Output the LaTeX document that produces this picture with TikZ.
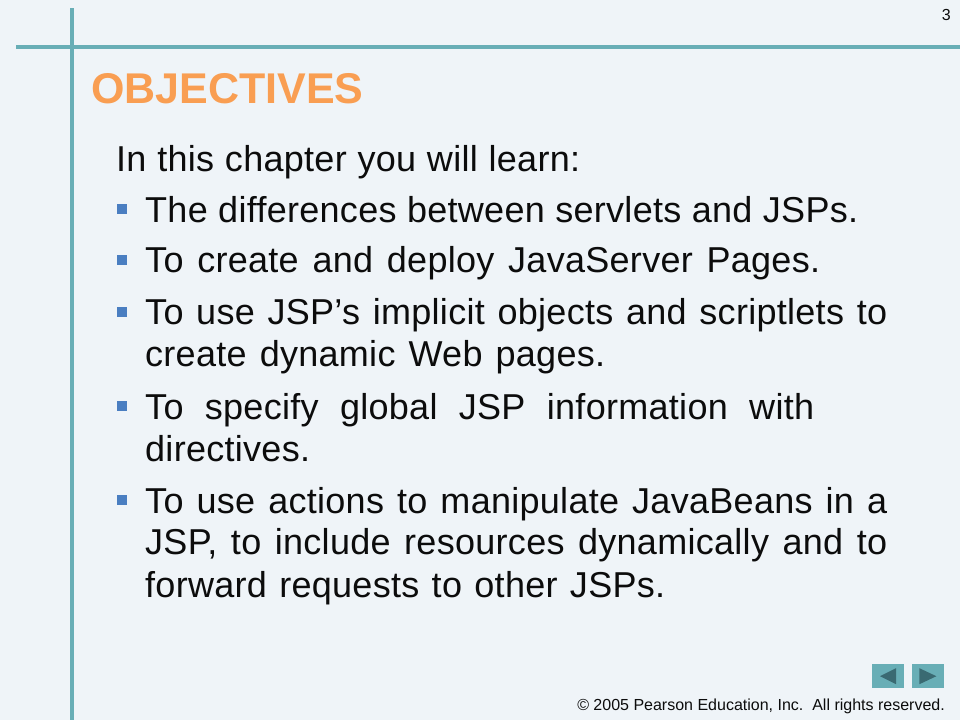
\documentclass[tikz,border=0pt]{standalone}
\usepackage{fontspec}
\setmainfont{Liberation Sans}
\newfontfamily\bodyfont{Liberation Sans}[LetterSpace=0.8,Ligatures=NoCommon]
\definecolor{bg}{RGB}{239,244,248}
\definecolor{teal}{RGB}{104,174,182}
\definecolor{tealdark}{RGB}{58,106,114}
\definecolor{titleorange}{RGB}{249,158,82}
\definecolor{bulletblue}{RGB}{74,126,193}
\definecolor{bodytext}{RGB}{12,12,12}
\begin{document}
\begin{tikzpicture}[x=1pt,y=-1pt,
  rule/.style={teal,line width=4pt},
  titletext/.style={anchor=base west,inner sep=0pt,text=titleorange,font=\fontsize{43}{50}\selectfont\bfseries},
  bodyline/.style={anchor=base west,inner sep=0pt,text=bodytext,font=\bodyfont\fontsize{36}{42}\selectfont},
  bulletsq/.style={rectangle,fill=bulletblue,inner sep=0pt,minimum size=10pt,anchor=center},
  smalltext/.style={anchor=base east,inner sep=0pt,text=bodytext,font=\fontsize{16}{19}\selectfont},
  navbtn/.style={rectangle,fill=teal,inner sep=0pt,minimum width=32pt,minimum height=24pt,anchor=north west},
  navtri/.style={fill=tealdark}
]
\useasboundingbox (0,0) rectangle (960,720);
\fill[bg] (0,0) rectangle (960,720);
% rules
\draw[rule] (72,8) -- (72,720);
\draw[rule] (16,47.3) -- (960,47.3);
% page number
\node[smalltext] (pagenum) at (951,20) {3};
% title
\node[titletext] (title) at (91,103.5) {OBJECTIVES};
% body
\node[bodyline] (intro) at (116,171.5) {\hbox to 464pt{In this chapter you will learn:}};
\newcommand{\bulletat}[2]{\node[bulletsq] (#1) at (122,#2-13) {};}
\bulletat{b1}{222.3}
\node[bodyline] (l1) at (145,222.3) {\hbox to 713pt{The differences between servlets and JSPs.}};
\bulletat{b2}{272.7}
\node[bodyline] (l2) at (145,272.7) {\hbox to 675pt{To create and deploy JavaServer Pages.}};
\bulletat{b3}{324.5}
\node[bodyline] (l3a) at (145,324.5) {\hbox to 742pt{To use JSP’s implicit objects and scriptlets to}};
\node[bodyline] (l3b) at (145,366.7) {\hbox to 460pt{create dynamic Web pages.}};
\bulletat{b4}{419}
\node[bodyline] (l4a) at (145,419) {\hbox to 669pt{To specify global JSP information with}};
\node[bodyline] (l4b) at (145,461) {\hbox to 157pt{directives.}};
\bulletat{b5}{513}
\node[bodyline] (l5a) at (145,513) {\hbox to 742pt{To use actions to manipulate JavaBeans in a}};
\node[bodyline] (l5b) at (145,554.5) {\hbox to 742pt{JSP, to include resources dynamically and to}};
\node[bodyline] (l5c) at (145,597) {\hbox to 520pt{forward requests to other JSPs.}};
% nav buttons
\node[navbtn] (prev) at (872,664) {};
\node[navbtn] (next) at (912,664) {};
\fill[navtri] ([xshift=8pt]prev.west) -- ([xshift=24pt,yshift=8pt]prev.west) -- ([xshift=24pt,yshift=-8pt]prev.west) -- cycle;
\fill[navtri] ([xshift=-8pt]next.east) -- ([xshift=-25pt,yshift=8pt]next.east) -- ([xshift=-25pt,yshift=-8pt]next.east) -- cycle;
% footer
\node[smalltext] (footer) at (945,710) {©\ 2005 Pearson Education, Inc.\ \ All rights reserved.};
\end{tikzpicture}
\end{document}
